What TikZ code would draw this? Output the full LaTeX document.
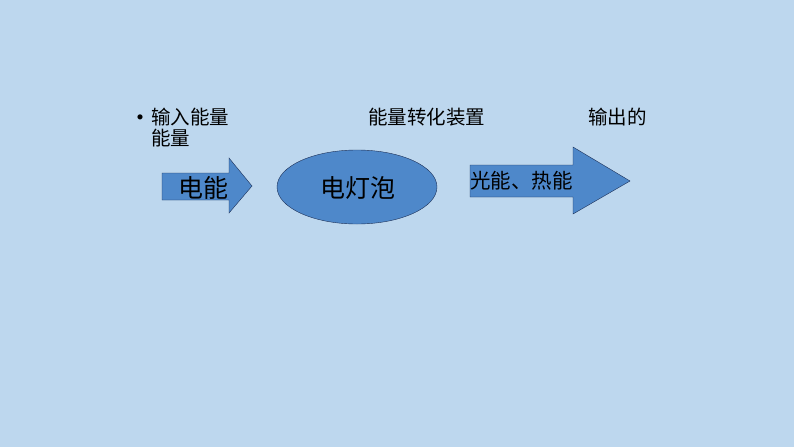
\documentclass[tikz,border=0pt]{standalone}
\usepackage{fontspec}
\setmainfont{Noto Sans CJK SC}
\usetikzlibrary{positioning}
\definecolor{slidebg}{RGB}{189,215,238}
\definecolor{shapefill}{RGB}{78,136,202}
\definecolor{shapeline}{RGB}{28,48,88}

\tikzset{
  caption/.style={inner sep=0pt, anchor=west, font=\fontsize{19.5}{23}\selectfont},
  shapetext/.style={inner sep=0pt, font=\fontsize{25}{30}\selectfont},
  energyshape/.style={draw=shapeline, fill=shapefill, line join=miter}
}

\begin{document}
\begin{tikzpicture}[x=1pt, y=-1pt]
  \fill[slidebg] (0,0) rectangle (794,447);
  % arrows and lamp
  \draw[energyshape] (162,173) -- (229,173) -- (229,158) -- (252,186)
    -- (229,213) -- (229,200) -- (162,200) -- cycle;
  \draw[energyshape] (357,187) ellipse [x radius=80, y radius=37];
  \draw[energyshape] (470,165) -- (573,165) -- (573,147) -- (630,181)
    -- (573,214) -- (573,197) -- (470,197) -- cycle;
  % texts
  \node[inner sep=0pt, font=\fontsize{24}{28}\selectfont] (dot) at (140,121) {•};
  \node[caption] (input) at (151,117) {输入能量};
  \node[caption, below=3pt of input.south west, anchor=north west] (input2) {能量};
  \node[caption] (device) at (368,117) {能量转化装置};
  \node[caption] (output) at (588,117) {输出的};
  \node[shapetext] (elec) at (203,188) {电能};
  \node[shapetext] (lamp) at (358,188) {电灯泡};
  \node[shapetext, font=\fontsize{20.5}{24}\selectfont, anchor=west] (lightheat) at (470,181) {光能、热能};
\end{tikzpicture}
\end{document}
